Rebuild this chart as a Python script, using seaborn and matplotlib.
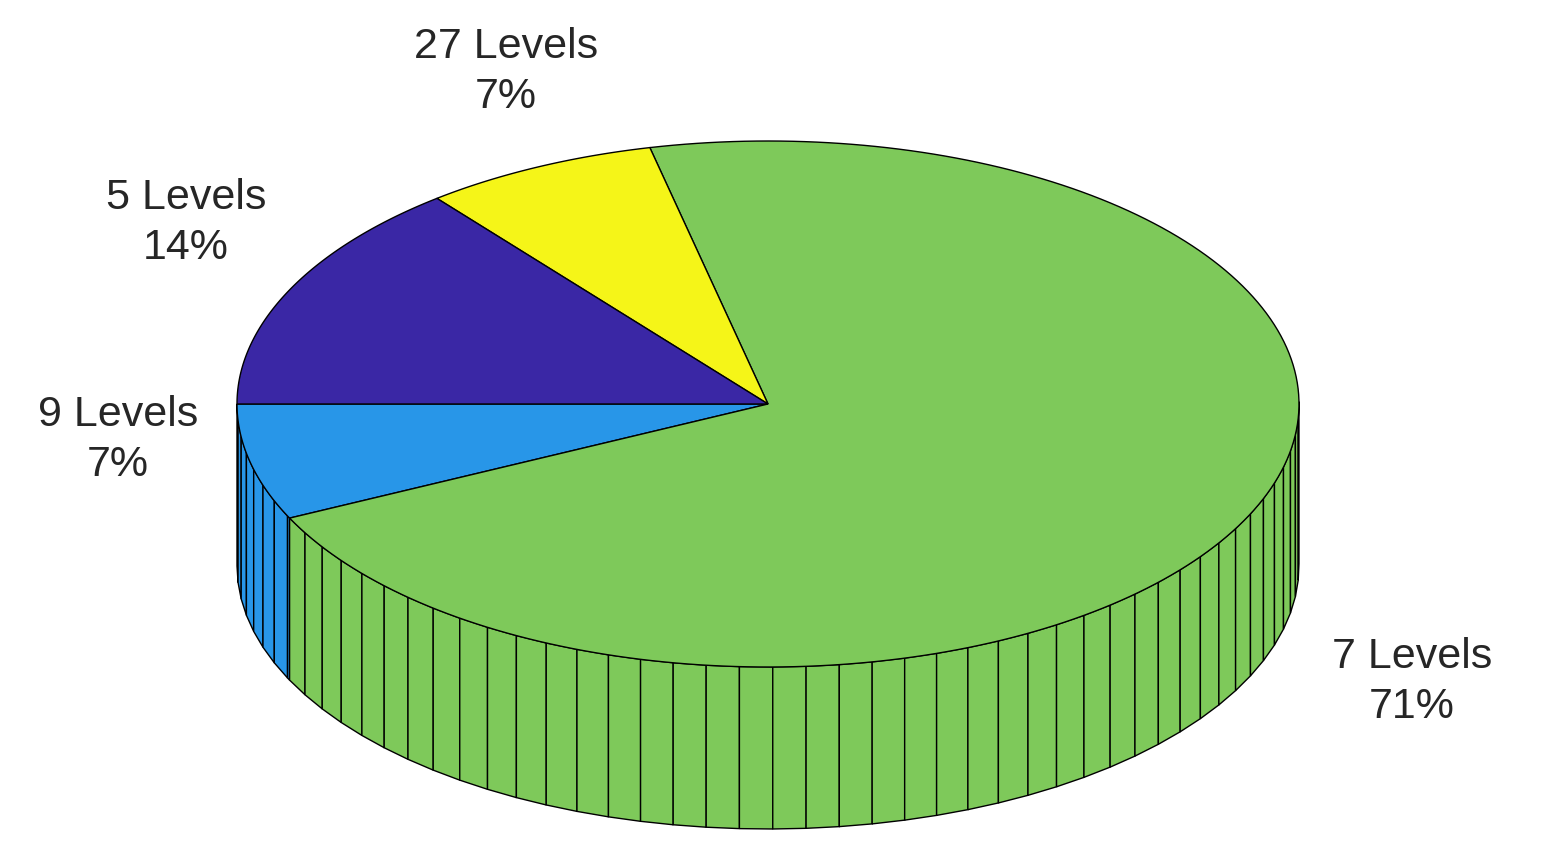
import numpy as np
import matplotlib.pyplot as plt
import seaborn as sns
from matplotlib.patches import Polygon

sns.set_style('white')
plt.rcParams['font.family'] = ['Liberation Sans', 'DejaVu Sans']

# data
levels = ['9 Levels', '7 Levels', '27 Levels', '5 Levels']
counts = [1, 10, 1, 2]
colors = ['#2896e8', '#7ec95a', '#f5f518', '#3a27a5']

# layout (pixel space)
cx, cy, rx, ry, depth = 768, 405, 531, 263, 162
start = 180.0
label_pos = [(118, 440), (1412, 682), (506, 72), (186, 223)]

fig = plt.figure(figsize=(15.46, 8.54), dpi=100)
ax = fig.add_axes([0, 0, 1, 1])
ax.set_xlim(0, 1546)
ax.set_ylim(854, 0)
ax.axis('off')

frac = np.array(counts) / np.sum(counts)
bounds = start + 360 * np.concatenate([[0], np.cumsum(frac)])


def pt(deg, dz=0):
    t = np.radians(deg)
    return cx + rx * np.cos(t), cy - ry * np.sin(t) + dz


# side walls (only front half visible: 180..360)
for i in range(len(counts)):
    a0, a1 = bounds[i], bounds[i + 1]
    angs = np.arange(a0, a1, 3.6)
    angs = np.append(angs, a1)
    for b0, b1 in zip(angs[:-1], angs[1:]):
        m = ((b0 + b1) / 2) % 360
        if not (180 <= m <= 360):
            continue
        quad = [pt(b0), pt(b1), pt(b1, depth), pt(b0, depth)]
        ax.add_patch(Polygon(quad, closed=True, facecolor=colors[i],
                             edgecolor='black', lw=1))

# top faces
for i in range(len(counts)):
    angs = np.linspace(bounds[i], bounds[i + 1], 200)
    poly = [(cx, cy)] + [pt(a) for a in angs]
    ax.add_patch(Polygon(poly, closed=True, facecolor=colors[i],
                         edgecolor='black', lw=1))

for i, name in enumerate(levels):
    x, y = label_pos[i]
    ax.text(x, y, f'{name}\n{frac[i] * 100:.0f}%', ha='center', va='center',
            fontsize=31, linespacing=1.35)

plt.savefig('out.png', dpi=100)
